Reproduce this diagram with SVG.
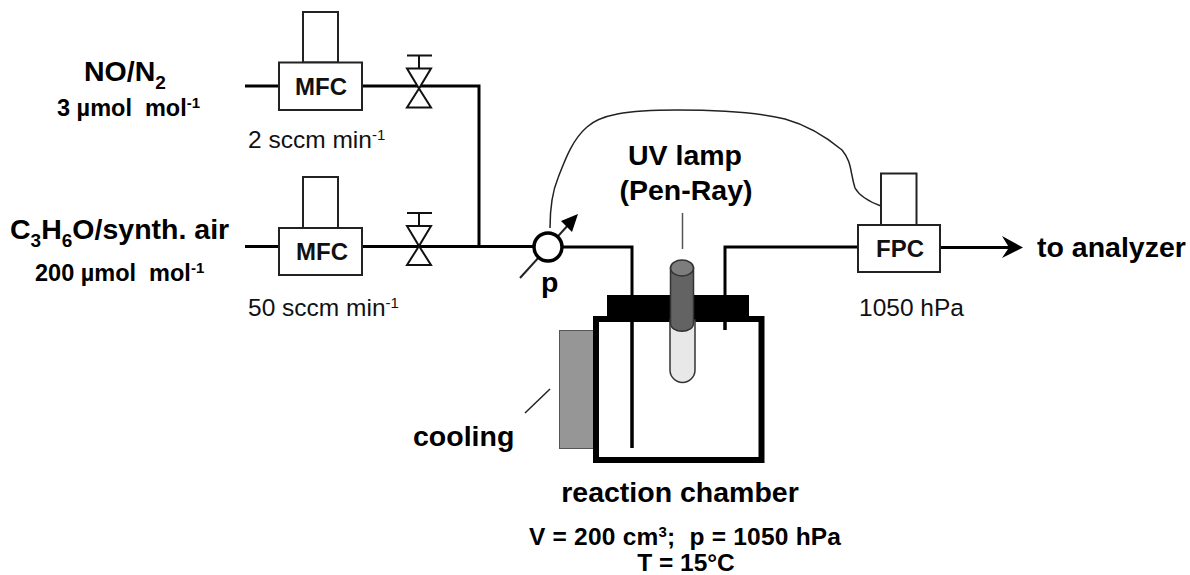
<svg xmlns="http://www.w3.org/2000/svg" width="1190" height="575" viewBox="0 0 1190 575">
<style>
text{font-family:"Liberation Sans",Arial,sans-serif;fill:#000}
.l{font-size:28.500px;font-weight:bold}
.m{font-size:23.500px;font-weight:bold}
.n{font-size:24.500px;font-weight:bold}
.r{font-size:24.500px;fill:#111}
.u{font-size:24px;font-weight:bold;fill:#111}
.pipe{fill:none;stroke:#000;stroke-width:3}
.box{fill:#fff;stroke:#222;stroke-width:2}
.thin{fill:none;stroke:#222;stroke-width:1.5}
.v{fill:#fff;stroke:#111;stroke-width:2}
</style>
<defs>
<g id="valve"><path class="v" d="M407 0H432M419 0V13"/><path class="v" d="M407 13H431L419 33ZM419 33L431 52H407Z"/></g>
</defs>
<g id="connectors">
<path class="pipe" d="M245 86H279M362 86H479V246"/>
<path class="pipe" d="M245 246.500H279M362 246.500H534M562 247H632V448"/>
<path class="pipe" d="M725 330V247H858"/>
<path class="pipe" d="M940 247.500H1014"/>
<path d="M1002 236L1023 247.500L1002 258L1009 247.500Z" fill="#000"/>
<path class="thin" d="M550 228C550 205 553 190 558 178C565 160 572 140 587 127C600 115 625 110 677 110C720 110 760 113 785 119C810 126 830 140 842 150C852 162 850 172 855 188C860 197 870 202 881 206"/>
<line x1="520" y1="278" x2="570" y2="223" stroke="#222" stroke-width="2"/>
<path d="M578 214L572 232L561 221Z" fill="#000"/>
<line x1="682.500" y1="213" x2="682.500" y2="249" stroke="#555" stroke-width="1.500"/>
<line x1="525" y1="413" x2="550" y2="389" stroke="#222" stroke-width="1.500"/>
</g>
<g id="mfc1">
<rect class="box" x="303" y="12" width="35" height="50.500"/>
<rect class="box" x="279" y="62.500" width="83" height="47.500"/>
<text class="u" x="295" y="95">MFC</text>
</g>
<g id="mfc2">
<rect class="box" x="303" y="177" width="35" height="51"/>
<rect class="box" x="279" y="228" width="83" height="47"/>
<text class="u" x="296" y="260">MFC</text>
</g>
<g id="valve1"><use href="#valve" y="55.500"/></g>
<g id="valve2"><use href="#valve" y="213"/></g>
<g id="pressure"><circle cx="548" cy="247" r="14" fill="#fff" stroke="#000" stroke-width="3.500"/>
<text class="l" x="541" y="292">p</text></g>
<g id="fpc">
<rect class="box" x="881" y="173.500" width="35.500" height="51.500"/>
<rect class="box" x="858" y="225" width="82" height="47"/>
<text class="u" x="876" y="257">FPC</text>
</g>
<g id="chamber">
<rect x="559.500" y="330.500" width="34" height="118" fill="#969696" stroke="#555" stroke-width="1"/>
<rect x="596" y="319" width="165.500" height="141" fill="none" stroke="#000" stroke-width="6"/>
<rect x="607" y="295" width="142" height="27" fill="#000"/>
<line x1="632" y1="322" x2="632" y2="448" stroke="#000" stroke-width="3"/>
<line x1="725" y1="322" x2="725" y2="330" stroke="#000" stroke-width="3"/>
</g>
<g id="lamp">
<path d="M670 320V370A12.500 12.500 0 0 0 695 370V320Z" fill="#e8e8e8" stroke="#333" stroke-width="1.500"/>
<path d="M670.500 268V323C670.500 334 693.500 334 693.500 323V268Z" fill="#636363" stroke="#333" stroke-width="1.500"/>
<ellipse cx="682" cy="268" rx="11.500" ry="8" fill="#7d7d7d" stroke="#333" stroke-width="1.500"/>
</g>
<g id="labels">
<text class="l" x="84" y="81">NO/N<tspan font-size="19" dy="8">2</tspan></text>
<text class="m" x="57" y="116">3 µmol&#160; mol<tspan font-size="15" dy="-8">-1</tspan></text>
<text class="l" x="10" y="239">C<tspan font-size="19" dy="8">3</tspan><tspan dy="-8">H</tspan><tspan font-size="19" dy="8">6</tspan><tspan dy="-8">O/synth. air</tspan></text>
<text class="m" x="35" y="281">200 µmol&#160; mol<tspan font-size="15" dy="-8">-1</tspan></text>
<text class="r" x="248" y="148">2 sccm min<tspan font-size="15" dy="-8">-1</tspan></text>
<text class="r" x="248" y="316">50 sccm min<tspan font-size="15" dy="-8">-1</tspan></text>
<text class="l" x="685" y="165" text-anchor="middle">UV lamp</text>
<text class="l" x="686" y="200" text-anchor="middle">(Pen-Ray)</text>
<text class="l" x="1037" y="257">to analyzer</text>
<text class="r" x="859" y="316">1050 hPa</text>
<text class="l" x="413" y="446">cooling</text>
<text class="l" x="680" y="502" text-anchor="middle">reaction chamber</text>
<text class="n" x="529" y="545" textLength="312">V = 200 cm<tspan font-size="15" dy="-8">3</tspan><tspan dy="8">;&#160; p = 1050 hPa</tspan></text>
<text class="n" x="686" y="571" text-anchor="middle">T = 15°C</text>
</g>
</svg>
